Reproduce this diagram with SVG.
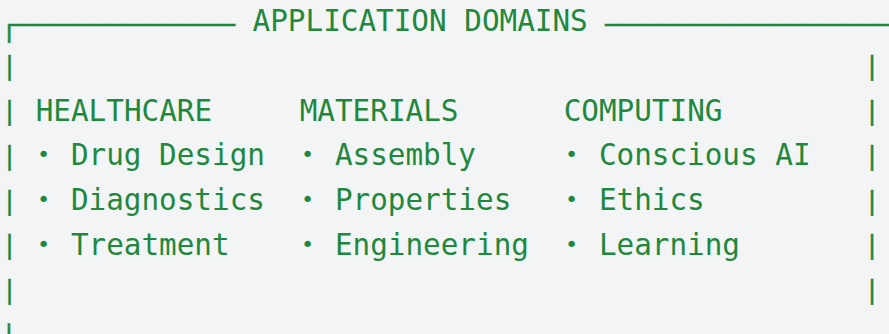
<svg xmlns="http://www.w3.org/2000/svg" width="889" height="334" viewBox="0 0 889 334">
<style>
text{font-family:"DejaVu Sans Mono","Liberation Mono",monospace;fill:#1f883d;font-size:29.3px;}
.box{font-family:"Liberation Mono",monospace;stroke:#1f883d;stroke-width:0.5;}
.bar{text-anchor:middle;}
.b{font-size:22px;}
</style>
<defs>
<text id="vb" class="box bar" x="0" y="0">│</text>
</defs>
<rect width="889" height="334" fill="#f3f4f6"/>
<g id="frame">
<text class="box" x="0" y="34" textLength="235" lengthAdjust="spacingAndGlyphs">┌────────────</text>
<text class="box" x="605" y="34" textLength="290" lengthAdjust="spacingAndGlyphs">────────────────</text>
<use href="#vb" transform="translate(9.5,74.3) scale(1,0.78)"/><use href="#vb" transform="translate(872,74.3) scale(1,0.78)"/>
<use href="#vb" transform="translate(9.5,119.05) scale(1,0.78)"/><use href="#vb" transform="translate(872,119.05) scale(1,0.78)"/>
<use href="#vb" transform="translate(9.5,163.8) scale(1,0.78)"/><use href="#vb" transform="translate(872,163.8) scale(1,0.78)"/>
<use href="#vb" transform="translate(9.5,208.55) scale(1,0.78)"/><use href="#vb" transform="translate(872,208.55) scale(1,0.78)"/>
<use href="#vb" transform="translate(9.5,253.3) scale(1,0.78)"/><use href="#vb" transform="translate(872,253.3) scale(1,0.78)"/>
<use href="#vb" transform="translate(9.5,298.05) scale(1,0.78)"/><use href="#vb" transform="translate(872,298.05) scale(1,0.78)"/>
<text class="box" x="0" y="347.5">└────────────────────────────────────────────────</text>
</g>
<g id="title"><text x="252.6" y="31">APPLICATION DOMAINS</text></g>
<g id="col-healthcare">
<text x="35.7" y="120.5">HEALTHCARE</text>
<text x="36.9" y="162.25"><tspan class="b">• </tspan><tspan x="70.9" dy="3">Drug Design</tspan></text>
<text x="36.9" y="207"><tspan class="b">• </tspan><tspan x="70.9" dy="3">Diagnostics</tspan></text>
<text x="36.9" y="251.75"><tspan class="b">• </tspan><tspan x="70.9" dy="3">Treatment</tspan></text>
</g>
<g id="col-materials">
<text x="299.7" y="120.5">MATERIALS</text>
<text x="300.9" y="162.25"><tspan class="b">• </tspan><tspan x="334.9" dy="3">Assembly</tspan></text>
<text x="300.9" y="207"><tspan class="b">• </tspan><tspan x="334.9" dy="3">Properties</tspan></text>
<text x="300.9" y="251.75"><tspan class="b">• </tspan><tspan x="334.9" dy="3">Engineering</tspan></text>
</g>
<g id="col-computing">
<text x="563.7" y="120.5">COMPUTING</text>
<text x="564.9" y="162.25"><tspan class="b">• </tspan><tspan x="598.9" dy="3">Conscious AI</tspan></text>
<text x="564.9" y="207"><tspan class="b">• </tspan><tspan x="598.9" dy="3">Ethics</tspan></text>
<text x="564.9" y="251.75"><tspan class="b">• </tspan><tspan x="598.9" dy="3">Learning</tspan></text>
</g>
<g id="connectors"/>
</svg>
